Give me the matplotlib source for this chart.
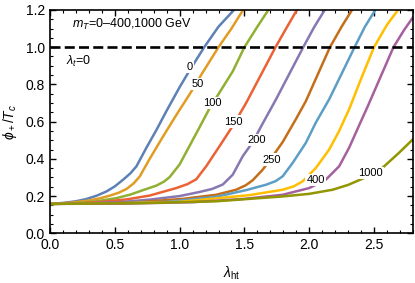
import numpy as np
import matplotlib
matplotlib.use("Agg")
import matplotlib.pyplot as plt
from matplotlib.ticker import MultipleLocator, FormatStrFormatter

plt.rcParams['font.family'] = ['Liberation Sans', 'DejaVu Sans']
plt.rcParams['mathtext.fontset'] = 'custom'
plt.rcParams['mathtext.rm'] = 'Liberation Sans'
plt.rcParams['mathtext.it'] = 'Liberation Sans:italic'
plt.rcParams['mathtext.fallback'] = 'stixsans'

labels = ["0", "50", "100", "150", "200", "250", "", "", "400", "1000"]
colors = ["#5E81B5", "#E19C24", "#8FB032", "#EB6235", "#8778B3",
          "#C56E1A", "#5D9EC7", "#FFBF00", "#A5609D", "#929600"]

x0 = [0, 0.1, 0.2, 0.28, 0.36, 0.436, 0.5, 0.564, 0.62, 0.667, 0.744, 0.821, 0.897, 1.0, 1.077, 1.19, 1.3, 1.42]
y0 = [0.158, 0.163, 0.172, 0.184, 0.202, 0.225, 0.252, 0.288, 0.322, 0.36, 0.46, 0.555, 0.655, 0.785, 0.875, 1.0, 1.11, 1.2]
x50 = [0, 0.15, 0.3, 0.385, 0.46, 0.53, 0.59, 0.645, 0.692, 0.769, 0.872, 0.974, 1.08, 1.17, 1.30, 1.4, 1.49]
y50 = [0.158, 0.164, 0.176, 0.188, 0.202, 0.218, 0.238, 0.268, 0.305, 0.4, 0.52, 0.635, 0.75, 0.855, 1.0, 1.1, 1.2]
x100 = [0, 0.2, 0.35, 0.513, 0.62, 0.718, 0.82, 0.88, 0.923, 1.0, 1.077, 1.154, 1.23, 1.41, 1.5, 1.6, 1.685]
y100 = [0.158, 0.162, 0.171, 0.189, 0.208, 0.232, 0.256, 0.278, 0.302, 0.37, 0.47, 0.57, 0.67, 0.87, 1.0, 1.11, 1.2]
x150 = [0, 0.25, 0.45, 0.6, 0.77, 0.974, 1.06, 1.128, 1.205, 1.308, 1.41, 1.513, 1.74, 1.83, 1.905]
y150 = [0.158, 0.162, 0.172, 0.183, 0.203, 0.243, 0.264, 0.29, 0.36, 0.468, 0.577, 0.70, 1.0, 1.11, 1.2]
x200 = [0, 0.3, 0.55, 0.77, 1.0, 1.154, 1.25, 1.333, 1.41, 1.487, 1.564, 1.641, 1.744, 1.954, 2.04, 2.12]
y200 = [0.158, 0.161, 0.168, 0.181, 0.2, 0.222, 0.238, 0.262, 0.315, 0.414, 0.49, 0.59, 0.72, 1.0, 1.11, 1.2]
x250 = [0, 0.4, 0.7, 1.026, 1.282, 1.436, 1.51, 1.564, 1.641, 1.718, 1.795, 1.897, 1.974, 2.16, 2.25, 2.33]
y250 = [0.158, 0.161, 0.168, 0.185, 0.207, 0.234, 0.258, 0.285, 0.342, 0.414, 0.49, 0.613, 0.71, 1.0, 1.11, 1.2]
x300 = [0, 0.5, 0.9, 1.282, 1.513, 1.667, 1.74, 1.795, 1.872, 1.974, 2.051, 2.154, 2.35, 2.43, 2.51]
y300 = [0.158, 0.161, 0.169, 0.196, 0.232, 0.261, 0.28, 0.306, 0.378, 0.486, 0.595, 0.72, 1.0, 1.11, 1.2]
x350 = [0, 0.5, 1.0, 1.538, 1.795, 1.88, 1.949, 2.051, 2.154, 2.231, 2.31, 2.4, 2.5, 2.6, 2.685]
y350 = [0.158, 0.16, 0.169, 0.205, 0.234, 0.252, 0.279, 0.351, 0.45, 0.55, 0.67, 0.83, 1.0, 1.12, 1.2]
x400 = [0, 0.6, 1.1, 1.5, 1.795, 2.0, 2.128, 2.231, 2.308, 2.385, 2.45, 2.55, 2.65, 2.73, 2.8]
y400 = [0.158, 0.16, 0.167, 0.185, 0.207, 0.243, 0.288, 0.36, 0.46, 0.58, 0.68, 0.84, 1.0, 1.09, 1.16]
x1000 = [0, 0.7, 1.282, 1.795, 2.0, 2.18, 2.3, 2.41, 2.564, 2.692, 2.8]
y1000 = [0.158, 0.162, 0.172, 0.198, 0.212, 0.234, 0.26, 0.293, 0.351, 0.432, 0.505]

xs = [x0, x50, x100, x150, x200, x250, x300, x350, x400, x1000]
ys = [y0, y50, y100, y150, y200, y250, y300, y350, y400, y1000]
label_xy = [(1.077, 0.892), (1.14, 0.80), (1.25, 0.70), (1.418, 0.60), (1.592, 0.50),
            (1.713, 0.396), None, None, (2.05, 0.285), (2.474, 0.326)]

fig = plt.figure(figsize=(4.15, 2.83), dpi=100)
ax = fig.add_axes([0.1205, 0.1756, 0.8745, 0.7894])

for xv, yv, c, lab, lxy in zip(xs, ys, colors, labels, label_xy):
    ax.plot(xv, yv, color=c, lw=1.8, solid_joinstyle='round', zorder=2)
    if lab:
        ax.text(lxy[0], lxy[1], lab, fontsize=8, ha='center', va='center', zorder=3,
                bbox=dict(facecolor='white', edgecolor='none', pad=0.8))

ax.axhline(1.0, color='black', lw=1.9, ls=(0, (3.8, 1.6)), zorder=4)

ax.text(0.17, 1.12, r"$m_T$=0–400,1000 GeV", fontsize=9, ha='left', va='center')
ax.text(0.12, 0.925, r"$\lambda_t$=0", fontsize=9, ha='left', va='center')

ax.set_xlim(0, 2.8)
ax.set_ylim(0, 1.2)
ax.xaxis.set_major_locator(MultipleLocator(0.5))
ax.xaxis.set_minor_locator(MultipleLocator(0.1))
ax.yaxis.set_major_locator(MultipleLocator(0.2))
ax.yaxis.set_minor_locator(MultipleLocator(0.05))
ax.tick_params(which='both', direction='in', top=True, right=True, labelsize=10)
ax.tick_params(which='major', length=4, width=1)
ax.tick_params(which='minor', length=2, width=0.8)
ax.xaxis.set_major_formatter(FormatStrFormatter('%.1f'))
ax.yaxis.set_major_formatter(FormatStrFormatter('%.1f'))
for s in ax.spines.values():
    s.set_linewidth(1.2)

ax.set_xlabel(r"$\lambda_{\rm ht}$", fontsize=10, labelpad=9)
ax.set_ylabel(r"$\phi_+/T_c$", fontsize=10, labelpad=5)

fig.savefig("out.png", dpi=100)
